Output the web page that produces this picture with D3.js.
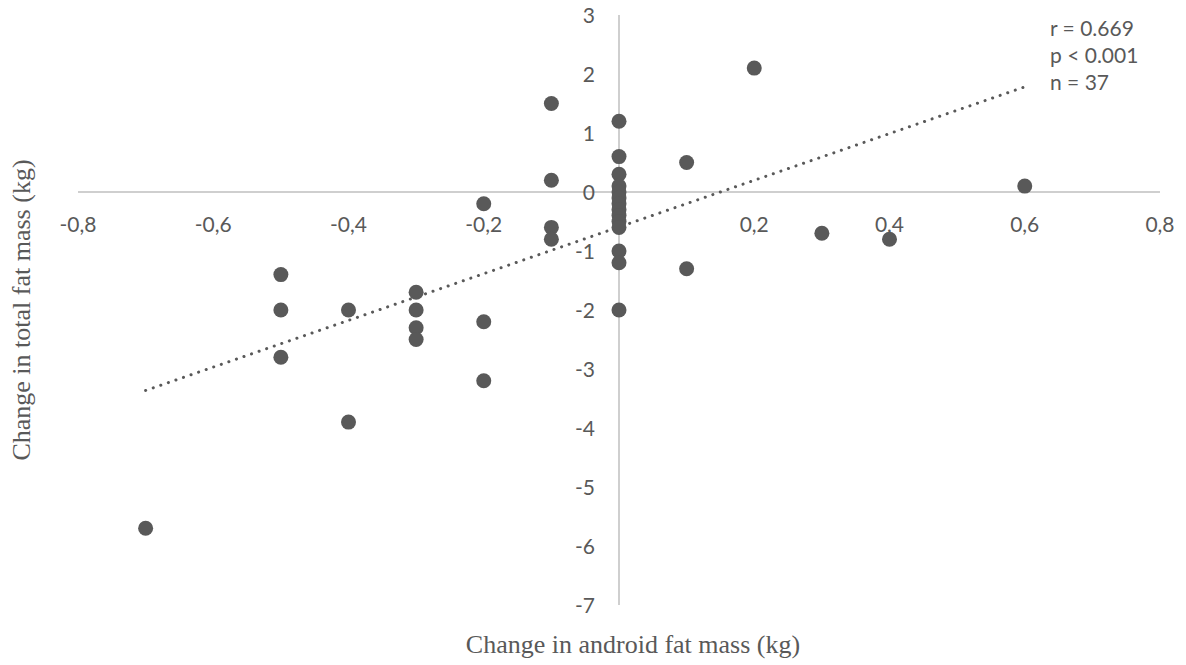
<!DOCTYPE html>
<html>
<head>
<meta charset="utf-8">
<script src="https://cdn.jsdelivr.net/npm/d3@7"></script>
<style>
  html, body { margin: 0; padding: 0; background: #fff; }
  svg { display: block; }
</style>
</head>
<body>
<svg id="chart" width="1186" height="665"></svg>
<script>
// Change in android fat mass (kg) per participant
const androidChange = [
  -0.7,
  -0.5, -0.5, -0.5,
  -0.4, -0.4,
  -0.3, -0.3, -0.3, -0.3,
  -0.2, -0.2, -0.2,
  -0.1, -0.1, -0.1, -0.1,
  0, 0, 0, 0, 0, 0, 0, 0, 0, 0, 0, 0, 0, 0,
  0.1, 0.1,
  0.2,
  0.3,
  0.4,
  0.6
];
// Change in total fat mass (kg) per participant
const totalChange = [
  -5.7,
  -1.4, -2.0, -2.8,
  -2.0, -3.9,
  -1.7, -2.0, -2.3, -2.5,
  -0.2, -2.2, -3.2,
  1.5, 0.2, -0.6, -0.8,
  1.2, 0.6, 0.3, 0.1, 0.0, -0.1, -0.2, -0.3, -0.4, -0.5, -0.6, -1.0, -1.2, -2.0,
  0.5, -1.3,
  2.1,
  -0.7,
  -0.8,
  0.1
];
const xTicks = [-0.8, -0.6, -0.4, -0.2, 0.2, 0.4, 0.6, 0.8];
const yTicks = [3, 2, 1, 0, -1, -2, -3, -4, -5, -6, -7];
const statsLines = ["r = 0.669", "p < 0.001", "n = 37"];

const svg = d3.select("#chart");
const grey = "#595959";
const axisGrey = "#bfbfbf";
const fmt = v => String(v).replace(".", ",");

const x = d3.scaleLinear().domain([-0.8, 0.8]).range([78, 1160]);
const y = d3.scaleLinear().domain([-7, 3]).range([605, 15]);

// axes crossing at the origin
svg.append("line")
  .attr("x1", x(-0.8)).attr("x2", x(0.8))
  .attr("y1", y(0)).attr("y2", y(0))
  .attr("stroke", axisGrey).attr("stroke-width", 1.5);
svg.append("line")
  .attr("x1", x(0)).attr("x2", x(0))
  .attr("y1", y(3)).attr("y2", y(-7))
  .attr("stroke", axisGrey).attr("stroke-width", 1.5);

const tickFont = "Lato, 'Open Sans', sans-serif";
const tickSize = 21;

svg.append("g").selectAll("text").data(xTicks).join("text")
  .attr("x", d => x(d))
  .attr("y", y(0) + 40)
  .attr("text-anchor", "middle")
  .attr("font-family", tickFont)
  .attr("font-size", tickSize)
  .attr("fill", grey)
  .text(fmt);

svg.append("g").selectAll("text").data(yTicks).join("text")
  .attr("x", x(0) - 24)
  .attr("y", d => y(d) + 7.5)
  .attr("text-anchor", "end")
  .attr("font-family", tickFont)
  .attr("font-size", tickSize)
  .attr("fill", grey)
  .text(d => String(d));

// least-squares trend line over the data range
const n = androidChange.length;
const mx = d3.mean(androidChange), my = d3.mean(totalChange);
let sxy = 0, sxx = 0;
for (let i = 0; i < n; i++) {
  sxy += (androidChange[i] - mx) * (totalChange[i] - my);
  sxx += (androidChange[i] - mx) ** 2;
}
const slope = sxy / sxx, intercept = my - slope * mx;
const [xmin, xmax] = d3.extent(androidChange);
svg.append("line")
  .attr("x1", x(xmin)).attr("y1", y(intercept + slope * xmin))
  .attr("x2", x(xmax)).attr("y2", y(intercept + slope * xmax))
  .attr("stroke", grey)
  .attr("stroke-width", 3)
  .attr("stroke-linecap", "round")
  .attr("stroke-dasharray", "0.1 7.9");

// data points
svg.append("g").selectAll("circle").data(d3.range(n)).join("circle")
  .attr("cx", i => x(androidChange[i]))
  .attr("cy", i => y(totalChange[i]))
  .attr("r", 7.5)
  .attr("fill", grey);

// statistics annotation
svg.append("g").selectAll("text").data(statsLines).join("text")
  .attr("x", 1050)
  .attr("y", (d, i) => 36 + i * 27)
  .attr("font-family", tickFont)
  .attr("font-size", tickSize)
  .attr("fill", grey)
  .text(d => d);

// axis titles
const titleFont = "'Liberation Serif', 'Times New Roman', serif";
svg.append("text")
  .attr("x", 633)
  .attr("y", 653)
  .attr("text-anchor", "middle")
  .attr("font-family", titleFont)
  .attr("font-size", 26)
  .attr("fill", grey)
  .text("Change in android fat mass (kg)");

svg.append("text")
  .attr("transform", `translate(30, ${(y(3) + y(-7)) / 2}) rotate(-90)`)
  .attr("text-anchor", "middle")
  .attr("font-family", titleFont)
  .attr("font-size", 26)
  .attr("fill", grey)
  .text("Change in total fat mass (kg)");
</script>
</body>
</html>
